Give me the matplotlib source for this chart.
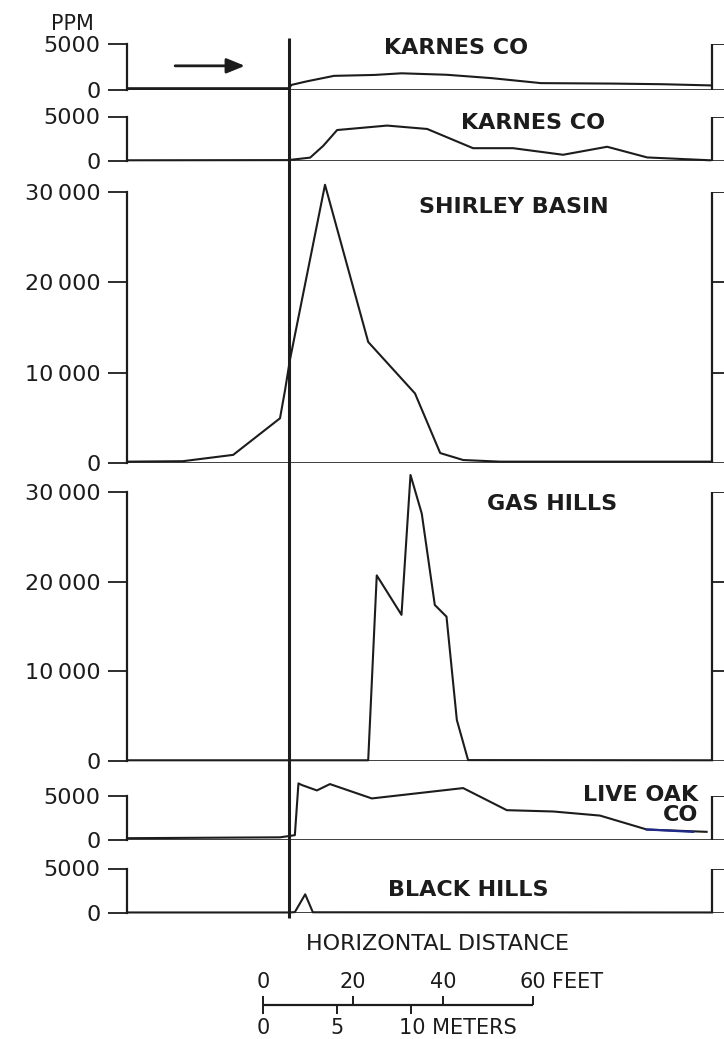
import matplotlib
matplotlib.use("Agg")
import matplotlib.pyplot as plt

plt.rcParams['font.family'] = ['DejaVu Sans']

W, H = 724, 1039
INK = '#1c1c1c'

# ---- data (x: feet from left edge of panel, y: ppm) ----
karnes1_x = [0, 36, 36.5, 40, 46, 55, 61, 71, 81, 92, 108, 119, 129.6]
karnes1_y = [60, 60, 500, 900, 1500, 1600, 1780, 1620, 1250, 700, 650, 580, 450]

karnes2_x = [0, 35.8, 40.7, 43.6, 46.7, 57.8, 66.7, 76.9, 85.8, 96.9, 106.7, 115.6, 129.6]
karnes2_y = [80, 100, 380, 1700, 3480, 3980, 3600, 1440, 1440, 700, 1600, 400, 80]

shirley_x = [0, 12.4, 23.6, 34, 35.1, 36.2, 44, 53.6, 64, 69.6, 74.7, 82.9, 130]
shirley_y = [150, 200, 900, 4950, 8000, 11400, 30800, 13400, 7700, 1100, 330, 150, 150]

gas_x = [0, 53.6, 55.5, 61, 63, 65.5, 68.4, 71, 73.3, 75.8, 130]
gas_y = [80, 80, 20700, 16300, 31900, 27600, 17400, 16100, 4570, 100, 80]

liveoak_x = [0, 34, 36.7, 37.3, 38.1, 38.8, 42.2, 45.1, 54.4, 74.7, 84.4, 94.7, 105.1, 115.5, 128.8]
liveoak_y = [150, 250, 450, 500, 6450, 6270, 5640, 6370, 4720, 5910, 3370, 3220, 2750, 1150, 880]
liveoak_ink_x = [115.5, 125.8]
liveoak_ink_y = [1150, 880]

black_x = [0, 36, 37.3, 39.6, 40.7, 41.3, 130]
black_y = [60, 60, 100, 2100, 800, 80, 60]

panel_names = ["KARNES CO", "KARNES CO", "SHIRLEY BASIN", "GAS HILLS", "LIVE OAK\nCO", "BLACK HILLS"]
small_ticks = [0, 5000]
small_ticklabels = ["0", "5000"]
big_ticks = [0, 10000, 20000, 30000]
big_ticklabels = ["0", "10\u2009000", "20\u2009000", "30\u2009000"]
feet_ticks = [0, 20, 40, 60]
meter_ticks = [0, 5, 10]
FT_PER_M = 3.2808

# ---- layout (pixels) ----
PX_PER_FT = 4.5
X0 = 127            # left bracket
XMAX = (W - X0) / PX_PER_FT
RIGHT_BRACKET = 130.0
REF_LINE = 36.0

panels = [
    (44.0, 89.5, 5000, karnes1_x, karnes1_y, small_ticks, small_ticklabels),
    (116.5, 161.0, 5000, karnes2_x, karnes2_y, small_ticks, small_ticklabels),
    (192.0, 463.0, 30000, shirley_x, shirley_y, big_ticks, big_ticklabels),
    (492.0, 761.0, 30000, gas_x, gas_y, big_ticks, big_ticklabels),
    (796.0, 839.5, 5000, liveoak_x, liveoak_y, small_ticks, small_ticklabels),
    (868.5, 913.0, 5000, black_x, black_y, small_ticks, small_ticklabels),
]

fig = plt.figure(figsize=(W / 100, H / 100), dpi=100)
fig.patch.set_facecolor('white')

def fx(px):
    return px / W

def fy(py):
    return 1 - py / H

axes = []
for top, zero, vtop, xs, ys, ticks, labels in panels:
    ax = fig.add_axes([fx(X0), fy(zero), fx(W) - fx(X0), (zero - top) / H])
    ax.set_xlim(0, XMAX)
    ax.set_ylim(0, vtop)
    ax.patch.set_alpha(0)
    for s in ['top', 'right', 'bottom']:
        ax.spines[s].set_visible(False)
    ax.spines['left'].set_bounds(0, vtop)
    ax.spines['left'].set_linewidth(1.6)
    ax.spines['left'].set_color(INK)
    ax.set_xticks([])
    ax.set_yticks(ticks)
    ax.set_yticklabels(labels)
    ax.tick_params(axis='y', direction='out', length=14, width=1.3, pad=5,
                   labelsize=16, colors=INK)
    # zero line
    ax.axhline(0, color=INK, lw=1.9, zorder=3)
    # right bracket
    ax.vlines(RIGHT_BRACKET, 0, vtop, color=INK, lw=1.6)
    ax.hlines([t for t in ticks if t > 0], RIGHT_BRACKET, XMAX, color=INK, lw=1.3)
    # curve
    ax.plot(xs, ys, color=INK, lw=1.5, clip_on=False, zorder=4)
    axes.append(ax)

# thicker baseline segment on the left of first panel
axes[0].plot(karnes1_x[:2], karnes1_y[:2], color=INK, lw=2.6, zorder=4)
# ink correction on Live Oak
axes[4].plot(liveoak_ink_x, liveoak_ink_y, color='#1f2a8c', lw=1.6, zorder=5)

# arrow in the first panel
axes[0].annotate('', xy=(26.2, 2600), xytext=(10.7, 2600),
                 arrowprops=dict(arrowstyle='-|>,head_length=1.1,head_width=0.45',
                                 color=INK, lw=2.0, shrinkA=0, shrinkB=0))

# overlay axes for the reference line and scale bar (x in feet, y in pixels)
ov = fig.add_axes([0, 0, 1, 1])
ov.set_xlim(-X0 / PX_PER_FT, XMAX)
ov.set_ylim(H, 0)
ov.axis('off')
ov.patch.set_alpha(0)
ov.vlines(REF_LINE, 38, 918, color=INK, lw=2.2)

# scale bar
SB0 = (263 - X0) / PX_PER_FT
BAR_Y = 1005
ov.hlines(BAR_Y, SB0, SB0 + feet_ticks[-1], color=INK, lw=1.6)
ov.vlines([SB0 + f for f in feet_ticks], BAR_Y - 9, BAR_Y, color=INK, lw=1.4)
ov.vlines([SB0 + m * FT_PER_M for m in meter_ticks], BAR_Y, BAR_Y + 9, color=INK, lw=1.4)
for f in feet_ticks:
    ov.text(SB0 + f, 982, str(f), ha='center', va='center', fontsize=15, color=INK)
ov.text(SB0 + feet_ticks[-1] + 4.3, 982, "FEET", ha='left', va='center', fontsize=15, color=INK)
for m in meter_ticks[:-1]:
    ov.text(SB0 + m * FT_PER_M, 1028, str(m), ha='center', va='center', fontsize=15, color=INK)
ov.text(SB0 + meter_ticks[-1] * FT_PER_M - 2.5, 1028, "10 METERS", ha='left', va='center',
        fontsize=15, color=INK)

# texts
fig.text(fx(72), fy(24), "PPM", ha='center', va='center', fontsize=15, color=INK)
label_pos = [(456, 48, 'center'), (533, 123, 'center'), (514, 207, 'center'),
             (552, 504, 'center'), (698, 805, 'right'), (468, 890, 'center')]
for name, (lx, ly, ha) in zip(panel_names, label_pos):
    fig.text(fx(lx), fy(ly), name, ha=ha, va='center', fontsize=16, fontweight='bold',
             color=INK, multialignment='right', linespacing=1.0)
fig.text(fx(438), fy(944), "HORIZONTAL DISTANCE", ha='center', va='center', fontsize=16, color=INK)

fig.savefig('out.png', dpi=100, facecolor='white')
